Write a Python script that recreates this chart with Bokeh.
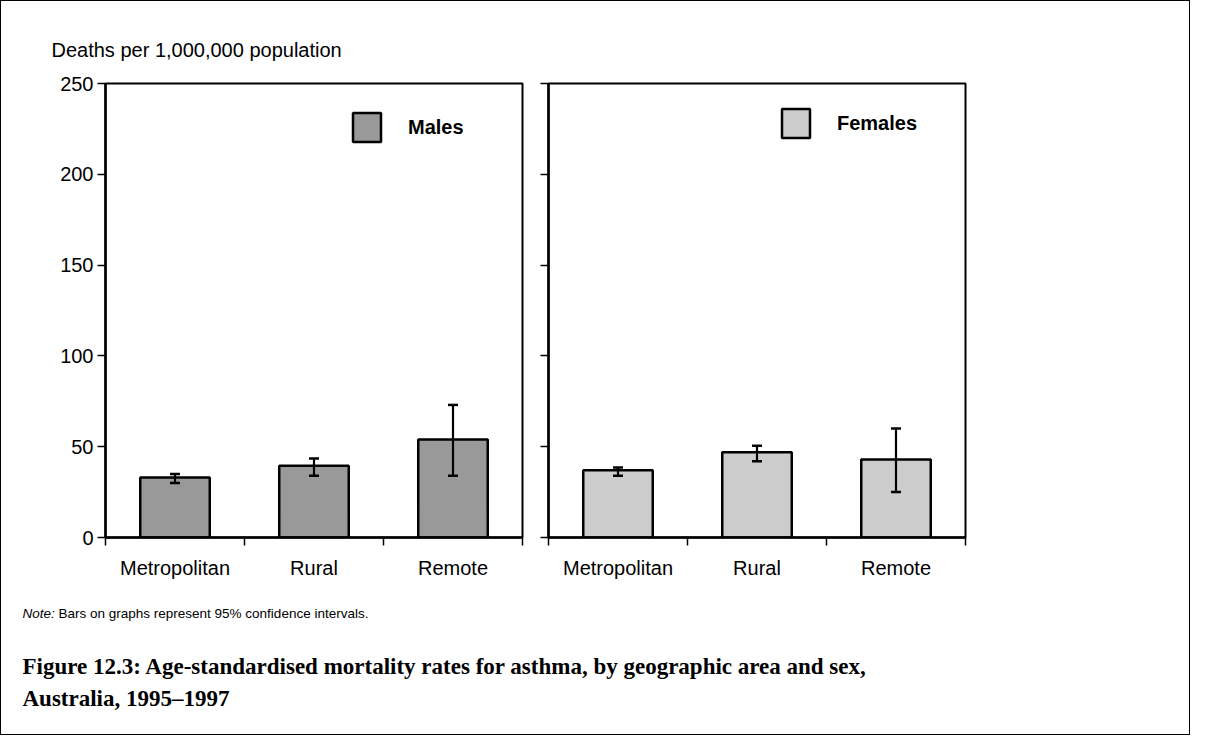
from bokeh.plotting import figure
from bokeh.models import (FixedTicker, Whisker, TeeHead, ColumnDataSource, Legend,
                          LegendItem, Label, Range1d)
from bokeh.layouts import column, row
from bokeh.embed import file_html
from bokeh.resources import INLINE

# ---------------- data ----------------
categories = ["Metropolitan", "Rural", "Remote"]
males = [33, 39.5, 54]
males_lower = [30, 34, 34]
males_upper = [35, 43.5, 73]
females = [37, 47, 43]
females_lower = [34, 42, 25]
females_upper = [38.5, 50.5, 60]
y_ticks = [0, 50, 100, 150, 200, 250]
y_max = 250
y_title = "Deaths per 1,000,000 population"
note_label = "Note:"
note_text = "Bars on graphs represent 95% confidence intervals."
caption_lines = ["Figure 12.3: Age-standardised mortality rates for asthma, by geographic area and sex,",
                 "Australia, 1995\u20131997"]

# ---------------- layout constants ----------------
SANS = "Liberation Sans"
FRAME_W = 417
FRAME_H = 454
HT = 70          # height of the strip holding the axis title
TOP = 82         # frame top measured from the top of the whole figure
ROW_H = 520      # height of the row holding the two panels
TOTAL_W = 1188
TOTAL_H = 733


def text_strip(h):
    p = figure(width=TOTAL_W, height=h, x_range=Range1d(0, TOTAL_W), y_range=Range1d(0, h),
               output_backend="svg", toolbar_location=None,
               x_axis_type=None, y_axis_type=None, min_border=0)
    p.xgrid.visible = False
    p.ygrid.visible = False
    p.outline_line_color = None
    return p


def make_panel(vals, lo, hi, color, name, left_border, right_border, show_labels, legend_loc):
    xs = [i + 0.5 for i in range(len(categories))]
    src = ColumnDataSource(dict(x=xs, top=vals, lower=lo, upper=hi))
    top_border = TOP - HT
    p = figure(width=left_border + FRAME_W + right_border, height=ROW_H,
               x_range=Range1d(0, len(categories)), y_range=Range1d(0, y_max),
               output_backend="svg", toolbar_location=None,
               min_border_left=left_border, min_border_right=right_border,
               min_border_top=top_border, min_border_bottom=ROW_H - top_border - FRAME_H)
    p.xgrid.visible = False
    p.ygrid.visible = False
    p.outline_line_color = "black"
    p.outline_line_width = 2
    p.background_fill_color = "white"
    p.border_fill_color = "white"

    r = p.vbar(x="x", top="top", bottom=0, width=0.5, source=src,
               fill_color=color, line_color="black", line_width=2.5)

    w = Whisker(source=src, base="x", upper="upper", lower="lower",
                line_color="black", line_width=2.2,
                upper_head=TeeHead(size=10, line_width=2.5, line_color="black"),
                lower_head=TeeHead(size=10, line_width=2.5, line_color="black"),
                level="overlay")
    p.add_layout(w)

    # y axis
    yax = p.yaxis[0]
    yax.ticker = FixedTicker(ticks=y_ticks)
    yax.axis_line_width = 2.5
    yax.axis_line_color = "black"
    yax.major_tick_out = 8
    yax.major_tick_in = 0
    yax.major_tick_line_width = 1.5
    yax.minor_tick_out = 0
    yax.minor_tick_in = 0
    yax.major_label_standoff = 4
    yax.major_label_text_font = SANS
    yax.major_label_text_font_size = "20px"
    yax.major_label_text_color = "black" if show_labels else None

    # x axis
    xax = p.xaxis[0]
    xax.ticker = FixedTicker(ticks=xs, minor_ticks=list(range(len(categories) + 1)))
    xax.major_label_overrides = {x: c for x, c in zip(xs, categories)}
    xax.axis_line_width = 2.5
    xax.axis_line_color = "black"
    xax.major_tick_out = 0
    xax.major_tick_in = 0
    xax.minor_tick_out = 8
    xax.minor_tick_in = 0
    xax.minor_tick_line_width = 1.5
    xax.minor_tick_line_color = "black"
    xax.major_label_standoff = 11
    xax.major_label_text_font = SANS
    xax.major_label_text_font_size = "20px"
    xax.major_label_text_color = "black"

    legend = Legend(items=[LegendItem(label=name, renderers=[r])],
                    location=legend_loc, glyph_width=35, glyph_height=36,
                    label_standoff=24, padding=0, margin=0, spacing=0,
                    border_line_alpha=0, background_fill_alpha=0,
                    label_text_font=SANS, label_text_font_style="bold",
                    label_text_font_size="20px", label_text_color="black")
    p.add_layout(legend)
    return p


pL = make_panel(males, males_lower, males_upper, "#999999", "Males",
                104, 526 - 104 - FRAME_W, True, (244, 392))
pR = make_panel(females, females_lower, females_upper, "#cccccc", "Females",
                21, TOTAL_W - 526 - 21 - FRAME_W, False, (230, 396))

# top strip: axis title
pT = text_strip(HT)
pT.add_layout(Label(x=50, y=HT - 48, x_units="screen", y_units="screen",
                    text=y_title, text_font=SANS, text_font_size="20px",
                    text_baseline="middle", text_color="black"))

# bottom strip: note and caption
HB = TOTAL_H - HT - ROW_H
pB = text_strip(HB)
NOTE_Y = 22
CAP_Y = 75
pB.add_layout(Label(x=21, y=HB - NOTE_Y, x_units="screen", y_units="screen",
                    text=note_label, text_font=SANS, text_font_size="13.5px",
                    text_font_style="italic", text_baseline="middle", text_color="black"))
pB.add_layout(Label(x=57, y=HB - NOTE_Y, x_units="screen", y_units="screen",
                    text=note_text, text_font=SANS, text_font_size="13.5px",
                    text_baseline="middle", text_color="black"))
for i, line in enumerate(caption_lines):
    pB.add_layout(Label(x=21, y=HB - CAP_Y - 32 * i, x_units="screen", y_units="screen",
                        text=line, text_font="Liberation Serif", text_font_size="23px",
                        text_font_style="bold", text_baseline="middle", text_color="black"))

layout = column(pT, row(pL, pR), pB, styles={"border": "1px solid black"})

open("out.html", "w").write(file_html(layout, INLINE))
